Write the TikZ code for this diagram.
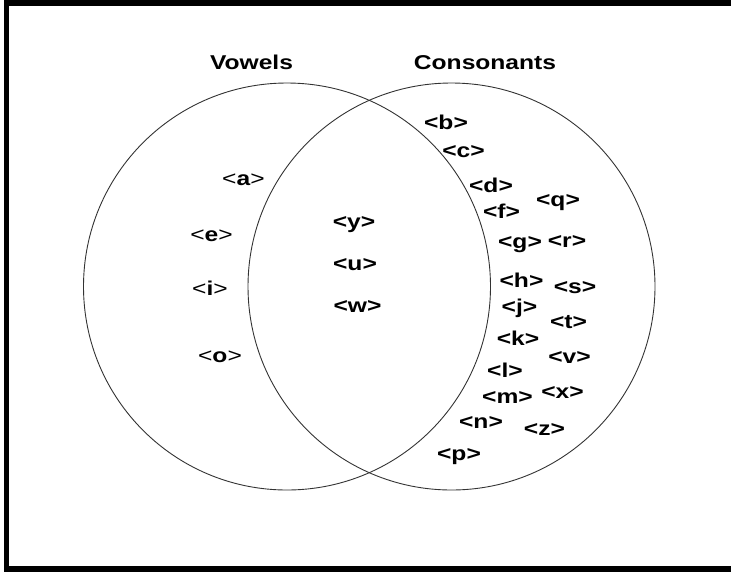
\documentclass[tikz,border=0pt]{standalone}
\usepackage{fontspec}
\setmainfont{Liberation Sans}
\newfontfamily\widefont[FakeStretch=1.23]{Liberation Sans}
\begin{document}
\begin{tikzpicture}[x=1pt,y=-1pt,
  setcircle/.style={draw=black!80,line width=0.9pt,circle,inner sep=0pt,minimum size=407pt},
  heading/.style={font=\widefont\bfseries\fontsize{20}{24}\selectfont,anchor=base,inner sep=0pt},
  vowel/.style={font=\widefont\fontsize{20}{24}\selectfont,anchor=base,inner sep=0pt},
  cons/.style={font=\widefont\bfseries\fontsize{20}{24}\selectfont,anchor=base,inner sep=0pt}]
\useasboundingbox (0,0) rectangle (731,574);
% frame, open beyond the right edge
\begin{scope}
  \clip (0,0) rectangle (731,574);
  \draw[line width=5.5pt] (6.5,2.75) rectangle (760,569);
\end{scope}
% the two sets
\node[setcircle] (vowels) at (287,286.5) {};
\node[setcircle] (consonants) at (451.5,286.5) {};
% headings
\node[heading] (hv) at (251.5,69) {Vowels};
\node[heading] (hc) at (485,69) {Consonants};
% vowels only
\node[vowel] (la) at (243.5,185) {<\textbf{a}>};
\node[vowel] (le) at (211.5,241.5) {<\textbf{e}>};
\node[vowel] (li) at (210,295.5) {<\textbf{i}>};
\node[vowel] (lo) at (220,362) {<\textbf{o}>};
% both sets
\node[cons] (ly) at (354,228) {<y>};
\node[cons] (lu) at (355,270) {<u>};
\node[cons] (lw) at (357.5,312) {<w>};
% consonants only
\node[cons] (lb) at (446,129) {<b>};
\node[cons] (lc) at (463.5,157) {<c>};
\node[cons] (ld) at (491,192) {<d>};
\node[cons] (lf) at (501.5,218) {<f>};
\node[cons] (lq) at (558,206) {<q>};
\node[cons] (lg) at (520,248) {<g>};
\node[cons] (lr) at (567,247) {<r>};
\node[cons] (lh) at (521.5,287) {<h>};
\node[cons] (ls) at (575,293) {<s>};
\node[cons] (lj) at (519.5,313) {<j>};
\node[cons] (lt) at (568.5,328) {<t>};
\node[cons] (lk) at (518,345) {<k>};
\node[cons] (lv) at (569.5,363) {<v>};
\node[cons] (ll) at (505,377) {<l>};
\node[cons] (lm) at (507.5,403) {<m>};
\node[cons] (lx) at (562.5,398) {<x>};
\node[cons] (ln) at (481,428) {<n>};
\node[cons] (lz) at (544.5,435) {<z>};
\node[cons] (lp) at (459,460) {<p>};
\end{tikzpicture}
\end{document}
